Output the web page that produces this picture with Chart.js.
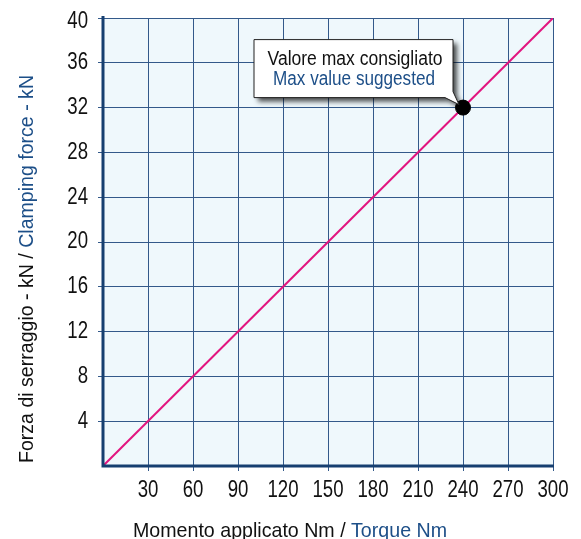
<!DOCTYPE html>
<html>
<head>
<meta charset="utf-8">
<script src="https://cdn.jsdelivr.net/npm/chart.js@4/dist/chart.umd.min.js"></script>
<style>
  html, body { margin: 0; padding: 0; background: #fff; }
  #wrap { width: 581px; height: 539px; }
</style>
</head>
<body>
<div id="wrap"><canvas id="c" width="581" height="539"></canvas></div>
<script>
// line of clamping force vs torque
const torqueNm = [0, 300];
const clampingKN = [0, 40];
// recommended max point
const maxTorque = [240];
const maxForce = [32];
// tick labels
const xTicks = [30, 60, 90, 120, 150, 180, 210, 240, 270, 300];
const yTicks = [4, 8, 12, 16, 20, 24, 28, 32, 36, 40];

const FONT = "'Liberation Sans', Arial, sans-serif";
const BLUE = '#1d4f88';
const GRID = '#33598a';
const AXIS = '#163f70';

const linePts = torqueNm.map((x, i) => ({ x, y: clampingKN[i] }));
const maxPts = maxTorque.map((x, i) => ({ x, y: maxForce[i] }));

// draws text squeezed horizontally (the original uses a narrow face)
// parts: [[text, colour], ...]; sx: horizontal scale or null to fit width
function narrow(ctx, parts, x, y, size, sx, width, align) {
  ctx.save();
  ctx.font = size + 'px ' + FONT;
  ctx.textAlign = 'left';
  const full = parts.reduce((s, p) => s + ctx.measureText(p[0]).width, 0);
  const k = sx || width / full;
  ctx.translate(x, y);
  ctx.scale(k, 1);
  let cx = align === 'right' ? -full : align === 'center' ? -full / 2 : 0;
  parts.forEach(p => {
    ctx.fillStyle = p[1];
    ctx.fillText(p[0], cx, 0);
    cx += ctx.measureText(p[0]).width;
  });
  ctx.restore();
}

// background of plot area + thick left/bottom axes
const plotBg = {
  id: 'plotBg',
  beforeDraw(chart) {
    const { ctx, chartArea: a } = chart;
    ctx.save();
    ctx.fillStyle = '#eff8fc';
    ctx.fillRect(a.left, a.top, a.right - a.left, a.bottom - a.top);
    ctx.restore();
  },
  afterDatasetsDraw(chart) {
    const { ctx, chartArea: a } = chart;
    ctx.save();
    ctx.strokeStyle = AXIS;
    ctx.lineWidth = 3;
    ctx.beginPath();
    ctx.moveTo(a.left, a.top - 2);
    ctx.lineTo(a.left, a.bottom);
    ctx.lineTo(a.right + 1, a.bottom);
    ctx.stroke();
    ctx.restore();
  }
};

// tick labels and axis titles
const labels = {
  id: 'labels',
  afterDraw(chart) {
    const { ctx, chartArea: a, scales } = chart;
    ctx.save();
    ctx.textBaseline = 'middle';
    xTicks.forEach(v => {
      narrow(ctx, [[String(v), '#111']], scales.x.getPixelForValue(v), a.bottom + 25, 23, 0.81, 0, 'center');
    });
    yTicks.forEach(v => {
      const y = Math.max(scales.y.getPixelForValue(v), a.top + 4);
      narrow(ctx, [[String(v), '#111']], a.left - 15, y, 23, 0.81, 0, 'right');
    });
    ctx.textBaseline = 'alphabetic';
    narrow(ctx, [['Momento applicato Nm / ', '#111'], ['Torque Nm', BLUE]], a.left + 30, a.bottom + 71, 21, 0, 314, 'left');
    ctx.translate(a.left - 70, a.bottom - 3);
    ctx.rotate(-Math.PI / 2);
    narrow(ctx, [['Forza di serraggio - kN / ', '#111'], ['Clamping force - kN', BLUE]], 0, 0, 21, 0, 388, 'left');
    ctx.restore();
  }
};

// callout box pointing at the max point
const callout = {
  id: 'callout',
  afterDatasetsDraw(chart) {
    const { ctx, scales } = chart;
    const px = scales.x.getPixelForValue(maxTorque[0]);
    const py = scales.y.getPixelForValue(maxForce[0]);
    const l = px - 209, r = px - 10, t = py - 68, b = py - 10;
    ctx.save();
    ctx.shadowColor = 'rgba(0,0,0,0.7)';
    ctx.shadowBlur = 5;
    ctx.shadowOffsetX = 4;
    ctx.shadowOffsetY = 4;
    ctx.fillStyle = '#fff';
    ctx.beginPath();
    ctx.moveTo(l, t);
    ctx.lineTo(r, t);
    ctx.lineTo(r, b - 6);
    ctx.lineTo(px - 4, py - 3);
    ctx.lineTo(r - 8, b);
    ctx.lineTo(l, b);
    ctx.closePath();
    ctx.fill();
    ctx.shadowColor = 'transparent';
    ctx.strokeStyle = '#222';
    ctx.lineWidth = 1;
    ctx.stroke();
    ctx.textBaseline = 'alphabetic';
    narrow(ctx, [['Valore max consigliato', '#111']], l + 101, t + 25, 20, 0, 175, 'center');
    narrow(ctx, [['Max value suggested', BLUE]], l + 100, t + 45, 20, 0, 162, 'center');
    ctx.restore();
  }
};

new Chart(document.getElementById('c'), {
  type: 'scatter',
  data: {
    datasets: [
      {
        data: linePts,
        showLine: true,
        borderColor: '#e2157f',
        borderWidth: 2,
        pointRadius: 0,
        order: 2,
      },
      {
        data: maxPts,
        pointRadius: 7.5,
        backgroundColor: '#000',
        borderColor: '#000',
        order: 1,
      },
    ],
  },
  options: {
    responsive: false,
    animation: false,
    layout: { padding: { top: 18, right: 28, left: 0, bottom: 0 } },
    plugins: { legend: { display: false }, tooltip: { enabled: false } },
    scales: {
      x: {
        type: 'linear',
        min: 0,
        max: 300,
        afterBuildTicks(s) { s.ticks = xTicks.map(v => ({ value: v })); },
        afterFit(s) { s.height = 73; },
        ticks: { display: false },
        grid: { color: GRID, lineWidth: 1, tickLength: 5 },
        border: { display: false },
      },
      y: {
        type: 'linear',
        min: 0,
        max: 40,
        afterBuildTicks(s) { s.ticks = yTicks.map(v => ({ value: v })); },
        afterFit(s) { s.width = 103; },
        ticks: { display: false },
        grid: { color: GRID, lineWidth: 1, tickLength: 5 },
        border: { display: false },
      },
    },
  },
  plugins: [plotBg, labels, callout],
});
</script>
</body>
</html>
